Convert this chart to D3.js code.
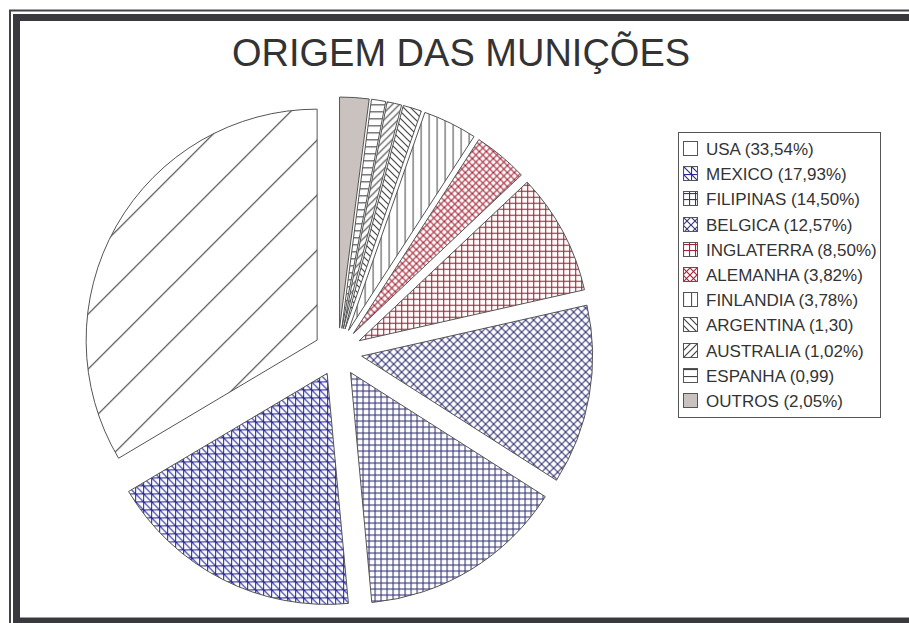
<!DOCTYPE html>
<html>
<head>
<meta charset="utf-8">
<script src="https://cdn.jsdelivr.net/npm/d3@7"></script>
<style>
body { margin: 0; background: #fff; }
svg { display: block; }
</style>
</head>
<body>
<svg></svg>
<script>
var categories = ["USA", "MEXICO", "FILIPINAS", "BELGICA", "INGLATERRA", "ALEMANHA",
                  "FINLANDIA", "ARGENTINA", "AUSTRALIA", "ESPANHA", "OUTROS"];
var shares = [33.54, 17.93, 14.50, 12.57, 8.50, 3.82, 3.78, 1.30, 1.02, 0.99, 2.05];
var legendLabels = ["USA (33,54%)", "MEXICO (17,93%)", "FILIPINAS (14,50%)", "BELGICA (12,57%)",
                    "INGLATERRA (8,50%)", "ALEMANHA (3,82%)", "FINLANDIA (3,78%)", "ARGENTINA (1,30)",
                    "AUSTRALIA (1,02%)", "ESPANHA (0,99)", "OUTROS (2,05%)"];
var title = "ORIGEM DAS MUNIÇÕES";

var w = 909;
var h = 623;
var cx = 338, cy = 352;
var radius = 231;
var explode = 24;

var svg = d3.select("svg")
    .attr("width", w)
    .attr("height", h);

var defs = svg.append("defs");

// hatch patterns, one per slice (lines sit on half pixels so they stay sharp)
function diagUp(s) { return "M0," + s + "L" + s + ",0M-1,1L1,-1M" + (s - 1) + "," + (s + 1) + "L" + (s + 1) + "," + (s - 1); }
function diagDown(s) { return "M0,0L" + s + "," + s + "M-1," + (s - 1) + "L1," + (s + 1) + "M" + (s - 1) + ",-1L" + (s + 1) + ",1"; }
function vert(s) { return "M0.5,0V" + s; }
function horiz(s) { return "M0,0.5H" + s; }

var patterns = [
    { size: 55, color: "#444", d: [diagUp(55)], x: 20 },
    { size: 8, color: "#2a2a9e", d: [vert(8), horiz(8), diagDown(8)] },
    { size: 6, color: "#363676", d: [vert(6), horiz(6)] },
    { size: 8, color: "#3c3c7c", d: [diagUp(8), diagDown(8)] },
    { size: 6, color: "#9e2636", d: [vert(6), horiz(6)] },
    { size: 7, color: "#a62638", d: [diagUp(7), diagDown(7)] },
    { size: 8, color: "#555", d: [vert(8)] },
    { size: 7, color: "#444", d: [diagDown(7)] },
    { size: 7, color: "#444", d: [diagUp(7)] },
    { size: 7, color: "#444", d: [horiz(7)] },
    null
];

patterns.forEach(function (p, i) {
    if (!p) return;
    var pat = defs.append("pattern")
        .attr("id", "pat" + i)
        .attr("patternUnits", "userSpaceOnUse")
        .attr("x", p.x || 0)
        .attr("y", 0)
        .attr("width", p.size)
        .attr("height", p.size);
    pat.append("rect").attr("width", p.size).attr("height", p.size).attr("fill", "#fff");
    p.d.forEach(function (d) {
        pat.append("path").attr("d", d)
            .attr("stroke", p.color)
            .attr("stroke-width", 1.2)
            .attr("fill", "none");
    });
});

function fillFor(i) {
    return patterns[i] ? "url(#pat" + i + ")" : "#c9c2bf";
}

// frame
svg.append("rect")
    .attr("x", 10).attr("y", 10.5)
    .attr("width", 1000).attr("height", 700)
    .attr("fill", "none").attr("stroke", "#444").attr("stroke-width", 2);
svg.append("rect")
    .attr("x", 16.5).attr("y", 17.5)
    .attr("width", 1000).attr("height", 603.5)
    .attr("fill", "none").attr("stroke", "#3a3a3e").attr("stroke-width", 7);

// title
svg.append("text")
    .attr("x", 461)
    .attr("y", 66)
    .attr("text-anchor", "middle")
    .attr("font-family", "Liberation Sans, Arial, sans-serif")
    .attr("font-size", "38px")
    .attr("fill", "#333")
    .text(title);

// pie, counterclockwise from 12 o'clock
var pie = d3.pie()
    .sort(null)
    .startAngle(0)
    .endAngle(-2 * Math.PI)
    .value(function (d) { return d; });

var arc = d3.arc()
    .innerRadius(0)
    .outerRadius(radius);

var slices = svg.append("g")
    .attr("transform", "translate(" + cx + "," + cy + ")")
    .selectAll("path")
    .data(pie(shares))
    .enter()
    .append("path");

slices.attr("d", arc)
    .attr("transform", function (d) {
        var mid = (d.startAngle + d.endAngle) / 2;
        return "translate(" + (Math.sin(mid) * explode) + "," + (-Math.cos(mid) * explode) + ")";
    })
    .attr("fill", function (d, i) { return fillFor(i); })
    .attr("stroke", "#555")
    .attr("stroke-width", 1)
    .attr("stroke-linejoin", "round");

// legend
var legendX = 678, legendY = 132;
var rowH = 25.2;

svg.append("rect")
    .attr("x", legendX + 0.5).attr("y", legendY + 0.5)
    .attr("width", 202).attr("height", 285)
    .attr("fill", "#fff").attr("stroke", "#555").attr("stroke-width", 1);

var rows = svg.selectAll("g.legend")
    .data(categories)
    .enter()
    .append("g")
    .attr("class", "legend")
    .attr("transform", function (d, i) {
        return "translate(" + (legendX + 5) + "," + Math.round(legendY + 17 + i * rowH) + ")";
    });

rows.append("rect")
    .attr("x", 0.5).attr("y", -7.5)
    .attr("width", 14).attr("height", 14)
    .attr("fill", function (d, i) { return i === 0 ? "#fff" : fillFor(i); })
    .attr("stroke", "#555")
    .attr("stroke-width", 1);

rows.append("text")
    .attr("x", 23)
    .attr("y", 6)
    .attr("font-family", "Liberation Sans, Arial, sans-serif")
    .attr("font-size", "17px")
    .attr("fill", "#333")
    .text(function (d, i) { return legendLabels[i]; });
</script>
</body>
</html>
